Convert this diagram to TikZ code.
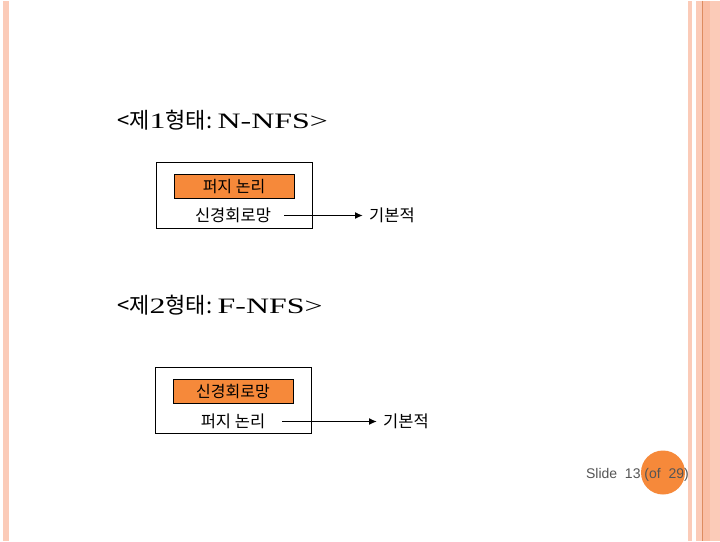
\documentclass[tikz,border=0pt]{standalone}
\usepackage{fontspec}
\setmainfont{Liberation Serif}
\setsansfont{Liberation Sans}
\newfontfamily\krfont{Noto Sans CJK KR}
\newfontfamily\widefont[FakeStretch=1.45]{Liberation Serif}
\usetikzlibrary{arrows.meta}
\definecolor{peach}{RGB}{251,203,184}
\definecolor{peachdark}{RGB}{250,190,165}
\definecolor{peachline}{RGB}{222,140,96}
\definecolor{boxorange}{RGB}{246,137,58}
\definecolor{slidegray}{RGB}{85,85,85}
\newcommand{\titletext}[2]{{\krfont <제}{\widefont #1}{\krfont 형태:}~{\widefont #2>}}

\begin{document}
\begin{tikzpicture}[x=1pt,y=-1pt,
  frame/.style={draw,line width=0.8pt,minimum width=156pt,minimum height=66pt,inner sep=0pt},
  layerbox/.style={draw,line width=0.8pt,fill=boxorange,minimum width=120pt,minimum height=24pt,inner sep=0pt,font=\krfont\fontsize{16}{18}\selectfont},
  plaintext/.style={inner sep=1pt,font=\krfont\fontsize{16.5}{18}\selectfont},
  flow/.style={-{Latex[length=8pt,width=7pt]},line width=1.6pt}]
% Page and side stripes
\fill[white] (0,0) rectangle (720,540);
\fill[peach] (3,0) rectangle (9,540);
\fill[peach] (688,0) rectangle (692,540);
\fill[peach] (696,0) rectangle (720,540);
\fill[peachdark] (702,0) rectangle (710,540);
\draw[peachline,line width=1pt] (702.5,0) -- (702.5,540);

% Titles
\node[anchor=west,inner sep=0pt,font=\fontsize{22}{26}\selectfont] (title1) at (117,120) {\titletext{1}{N-NFS}};
\node[anchor=west,inner sep=0pt,font=\fontsize{22}{26}\selectfont] (title2) at (117,305) {\titletext{2}{F-NFS}};

% Form 1 (N-NFS)
\node[frame] (frame1) at (234.5,195) {};
\node[layerbox] (fuzzy1) at (234,186) {퍼지 논리};
\node[plaintext] (neural1) at (233,215) {신경회로망};
\node[plaintext,anchor=west,inner xsep=6pt] (result1) at (363,215) {기본적};
\draw[flow] ([xshift=12pt]neural1.east) -- (result1.west);

% Form 2 (F-NFS)
\node[frame] (frame2) at (233.5,400) {};
\node[layerbox] (neural2) at (233,391) {신경회로망};
\node[plaintext] (fuzzy2) at (233,421) {퍼지 논리};
\node[plaintext,anchor=west,inner xsep=6pt] (result2) at (377,421) {기본적};
\draw[flow] ([xshift=16pt]fuzzy2.east) -- (result2.west);

% Slide number
\fill[boxorange] (663,472) circle (22);
\node[anchor=east,inner sep=0pt,text=slidegray,font=\sffamily\fontsize{14}{16}\selectfont] (slideno) at (689,474) {Slide\ \ 13 (of\ \ 29)};
\end{tikzpicture}
\end{document}
